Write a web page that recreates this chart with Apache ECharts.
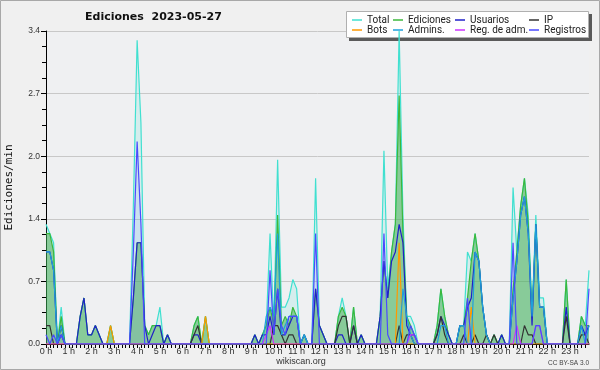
<!DOCTYPE html>
<html><head><meta charset="utf-8">
<script src="https://cdn.jsdelivr.net/npm/echarts@6/dist/echarts.min.js"></script>
<style>html,body{margin:0;padding:0;background:#f0f0f0}#c{width:600px;height:370px}</style>
</head><body><div id="c"></div>
<script>
// 10-minute slots, 0:00 .. 23:50 (144 values), edits per minute
const hourLabels = ['0 h','1 h','2 h','3 h','4 h','5 h','6 h','7 h','8 h','9 h','10 h','11 h','12 h','13 h','14 h','15 h','16 h','17 h','18 h','19 h','20 h','21 h','22 h','23 h'];
const total = [
1.3,1.2,1.1,0,0.4,0, 0,0,0,0.3,0.5,0.1,
0.1,0.2,0.1,0,0,0.2, 0,0,0,0,0,1.5,
3.3,2.4,0.2,0.1,0.2,0.2, 0.4,0,0.1,0,0,0,
0,0,0,0.2,0.3,0, 0.3,0,0,0,0,0,
0,0,0,0,0,0, 0,0.1,0,0.1,0.2,1.2,
0.2,2.0,0.4,0.4,0.5,0.7, 0.6,0,0.1,0,0,1.8,
0.2,0.1,0,0,0,0.3, 0.5,0.3,0,0.4,0,0.1,
0,0,0,0,0.3,2.1, 0.6,1.0,1.3,3.4,1.4,0.3,
0.3,0.2,0,0,0,0, 0,0.2,0.6,0.3,0.1,0,
0,0.2,0.2,1.0,0.9,1.2, 0.9,0.4,0.1,0,0.1,0,
0.1,0,0,1.7,1.0,1.5, 1.8,1.4,0.3,1.4,0.5,0.5,
0,0,0,0,0,0.7, 0,0,0,0.3,0.2,0.8];
const ediciones = [
1.2,1.2,1.0,0,0.3,0, 0,0,0,0.3,0.5,0.1,
0.1,0.2,0.1,0,0,0.2, 0,0,0,0,0,0.5,
1.1,1.1,0.2,0.1,0.2,0.2, 0.2,0,0.1,0,0,0,
0,0,0,0.2,0.3,0, 0.3,0,0,0,0,0,
0,0,0,0,0,0, 0,0.1,0,0.1,0.2,0.4,
0.2,1.4,0.2,0.3,0.2,0.4, 0.3,0,0.1,0,0,0.6,
0.2,0.1,0,0,0,0.3, 0.4,0.3,0,0.4,0,0.1,
0,0,0,0,0.3,0.9, 0.5,1.0,1.3,2.7,1.2,0.3,
0.2,0.1,0,0,0,0, 0,0.2,0.6,0.3,0.1,0,
0,0.2,0.2,0.5,0.9,1.2, 0.9,0.4,0.1,0,0.1,0,
0.1,0,0,0.6,1.0,1.5, 1.8,1.3,0.3,1.3,0.4,0.4,
0,0,0,0,0,0.7, 0,0,0,0.3,0.2,0.2];
const usuarios = [
1.0,1.0,0.8,0,0.1,0, 0,0,0,0.3,0.5,0.1,
0.1,0.2,0.1,0,0,0, 0,0,0,0,0,0.5,
1.1,1.1,0.2,0,0.1,0.2, 0.2,0,0.1,0,0,0,
0,0,0,0.1,0.1,0, 0,0,0,0,0,0,
0,0,0,0,0,0, 0,0.1,0,0.1,0.1,0.3,
0.1,0.6,0.1,0.1,0.2,0.3, 0.3,0,0.1,0,0,0.6,
0.2,0.1,0,0,0,0.1, 0.1,0,0,0.2,0,0.1,
0,0,0,0,0.3,0.9, 0.5,0.9,1.0,1.3,1.1,0.2,
0.1,0.1,0,0,0,0, 0,0.1,0.3,0.2,0.1,0,
0,0.2,0.2,0.4,0.5,1.0, 0.9,0.4,0.1,0,0,0,
0.1,0,0,0.5,0.9,1.4, 1.6,1.2,0.2,1.3,0.4,0.4,
0,0,0,0,0,0.4, 0,0,0,0.2,0.1,0.2];
const ip = [
0.2,0.2,0,0,0.2,0, 0,0,0,0,0,0,
0,0,0,0,0,0, 0,0,0,0,0,0,
0,0,0,0,0,0, 0,0,0,0,0,0,
0,0,0,0.1,0.2,0, 0,0,0,0,0,0,
0,0,0,0,0,0, 0,0,0,0,0,0,
0.2,0.2,0.1,0,0.1,0.1, 0,0,0,0,0,0,
0,0,0,0,0,0.2, 0.3,0.3,0,0.2,0,0,
0,0,0,0,0,0, 0,0,0,0.2,0,0.1,
0.1,0,0,0,0,0, 0,0.1,0.3,0.1,0,0,
0,0,0.1,0,0,0.1, 0,0,0.1,0,0.1,0,
0,0,0,0,0,0, 0.2,0.1,0.1,0,0,0,
0,0,0,0,0,0.3, 0,0,0,0.1,0.1,0];
const bots = [
0,0,0,0,0,0, 0,0,0,0,0,0,
0,0,0,0,0,0.2, 0,0,0,0,0,0,
0,0,0,0,0,0, 0,0,0,0,0,0,
0,0,0,0,0,0, 0.3,0,0,0,0,0,
0,0,0,0,0,0, 0,0,0,0,0,0,
0,0,0,0,0,0, 0,0,0,0,0,0,
0,0,0,0,0,0, 0,0,0,0,0,0,
0,0,0,0,0,0, 0,0,0,1.1,0,0,
0,0,0,0,0,0, 0,0,0,0,0,0,
0,0,0,0,0.4,0, 0,0,0,0,0,0,
0,0,0,0,0,0, 0,0,0,0,0,0,
0,0,0,0,0,0, 0,0,0,0,0,0];
const admins = [
1.0,1.0,0.8,0,0.2,0, 0,0,0,0,0,0,
0,0,0,0,0,0, 0,0,0,0,0,0,
0,0,0,0,0,0, 0,0,0,0,0,0,
0,0,0,0,0,0, 0,0,0,0,0,0,
0,0,0,0,0,0, 0,0,0,0,0.3,0.4,
0.3,1.2,0.1,0.2,0.3,0.3, 0.3,0,0.1,0,0,0,
0,0,0,0,0,0, 0,0,0,0,0,0,
0,0,0,0,0,0, 0,0,0,0,0.6,0.3,
0.1,0,0,0,0,0, 0,0,0.2,0.2,0,0,
0,0.2,0.2,0,0,1.0, 0.9,0.4,0.1,0,0,0,
0,0,0,0.5,0.9,1.4, 1.6,1.2,0.3,1.3,0.4,0.4,
0,0,0,0,0,0, 0,0,0,0.2,0,0.2];
const regAdm = [
0,0,0,0,0,0, 0,0,0,0,0,0,
0,0,0,0,0,0, 0,0,0,0,0,0,
0,0,0,0,0,0, 0,0,0,0,0,0,
0,0,0,0,0,0, 0,0,0,0,0,0,
0,0,0,0,0,0, 0,0,0,0,0.1,0.2,
0,0,0,0,0,0, 0,0,0,0,0,0,
0,0,0,0,0,0, 0,0,0,0,0,0,
0,0,0,0,0,0, 0,0,0,0,0,0,
0.1,0.1,0,0,0,0, 0,0,0,0,0,0,
0,0,0,0,0,0, 0,0,0,0,0,0,
0,0,0,0,0.2,0, 0,0,0,0.2,0.2,0,
0,0,0,0,0,0, 0,0,0,0,0,0];
const registros = [
0.1,0,0.1,0,0.1,0, 0,0,0,0,0,0,
0,0,0,0,0,0, 0,0,0,0,0,1.0,
2.2,1.3,0,0,0,0, 0,0,0,0,0,0,
0,0,0,0,0,0, 0,0,0,0,0,0,
0,0,0,0,0,0, 0,0,0,0,0,0.8,
0.1,0.6,0.2,0.1,0.3,0.3, 0.3,0,0,0,0,1.2,
0,0,0,0,0,0, 0,0,0,0,0,0,
0,0,0,0,0,1.2, 0.1,0,0,0,0,0,
0.2,0.1,0,0,0,0, 0,0,0,0,0,0,
0,0,0,0.5,0,0, 0,0,0,0,0,0,
0,0,0,1.1,0,0, 0,0,0,0.2,0.2,0,
0,0,0,0,0,0, 0,0,0,0,0,0.6];

const pts = a => a.map((v, i) => [i, v]);
const chart = echarts.init(document.getElementById('c'), null, {renderer: 'canvas'});
const font = 'Liberation Sans';
function line(name, data, color, width, area) {
  const s = {name, type: 'line', data: pts(data), color, symbol: 'none', showSymbol: false,
    lineStyle: {color, width}, itemStyle: {color}, animation: false, silent: true};
  if (area) s.areaStyle = {color: area, opacity: 1};
  return s;
}
function leg(names, left) {
  return {data: names, orient: 'vertical', left, top: 15, itemGap: 0, itemWidth: 10, itemHeight: 1.5,
    icon: 'rect', padding: 0, z: 20, itemStyle: {borderWidth: 0},
    textStyle: {fontFamily: 'Roboto', fontSize: 10, color: '#222', lineHeight: 10, padding: [0, 0, 0, 0]}, selectedMode: false};
}
chart.setOption({
  animation: false,
  backgroundColor: '#f0f0f0',
  title: {text: 'Ediciones  2023-05-27', left: 85, top: 12,
    textStyle: {fontFamily: 'DejaVu Sans', fontWeight: 'bold', fontSize: 11, color: '#111'}, padding: 0},
  graphic: [
    {type: 'rect', shape: {x: 0.5, y: 0.5, width: 599, height: 369}, style: {fill: 'none', stroke: '#a8a8a8', lineWidth: 1}, z: 0},
    {type: 'rect', shape: {x: 349, y: 14, width: 243, height: 27}, style: {fill: '#5a5a5a'}, z: 1},
    {type: 'rect', shape: {x: 346.5, y: 11.5, width: 242, height: 26}, style: {fill: '#ffffff', stroke: '#b0b0b0', lineWidth: 1}, z: 2},
    {type: 'text', x: 301, y: 362, style: {text: 'wikiscan.org', fontFamily: font, fontSize: 9, fill: '#333', align: 'center', verticalAlign: 'middle'}},
    {type: 'text', x: 589, y: 363, style: {text: 'CC BY-SA 3.0', fontFamily: font, fontSize: 6.5, fill: '#444', align: 'right', verticalAlign: 'middle'}}
  ],
  legend: [leg(['Total', 'Bots'], 352), leg(['Ediciones', 'Admins.'], 393), leg(['Usuarios', 'Reg. de adm.'], 455), leg(['IP', 'Registros'], 529)],
  grid: {left: 46, right: 11, top: 31, bottom: 26, outerBoundsMode: 'none', containLabel: false,
    show: true, backgroundColor: '#eff0f2', borderWidth: 0},
  xAxis: {type: 'value', min: 0, max: 143, interval: 1,
    axisLine: {lineStyle: {color: '#000', width: 1}},
    axisTick: {length: 4, lineStyle: {color: '#000'}},
    splitLine: {show: false},
    axisLabel: {fontFamily: font, fontSize: 9, color: '#333', margin: 3, showMaxLabel: false,
      formatter: v => (v % 6 === 0 && v / 6 < 24) ? hourLabels[v / 6] : ''}},
  yAxis: {type: 'value', min: 0, max: 3.4, interval: 0.68,
    name: 'Ediciones/min', nameLocation: 'middle', nameGap: 31, nameRotate: 90,
    nameTextStyle: {fontFamily: 'DejaVu Sans Mono', fontSize: 11, color: '#111'},
    axisLine: {show: true, lineStyle: {color: '#000', width: 1}},
    axisTick: {show: true, length: 5, lineStyle: {color: '#000'}},
    minorTick: {show: true, splitNumber: 4, length: 4, lineStyle: {color: '#000'}},
    splitLine: {show: true, lineStyle: {color: '#c8c8c8', width: 1}},
    axisLabel: {fontFamily: font, fontSize: 8.5, color: '#333', margin: 6, formatter: v => v.toFixed(1)}},
  series: [
    line('Total', total, '#40e0d0', 1.2, 'rgba(64,224,208,0.15)'),
    line('Ediciones', ediciones, '#3cb83c', 1.2, 'rgba(60,170,70,0.5)'),
    line('Usuarios', usuarios, '#2020c8', 1.2),
    line('IP', ip, '#333333', 1.2),
    line('Bots', bots, '#ff9900', 1.2),
    line('Admins.', admins, '#1ea0dc', 1.2),
    line('Reg. de adm.', regAdm, '#cc33ff', 1.2),
    line('Registros', registros, '#4a4aff', 1.2, 'rgba(90,90,255,0.08)')
  ]
});
</script></body></html>
